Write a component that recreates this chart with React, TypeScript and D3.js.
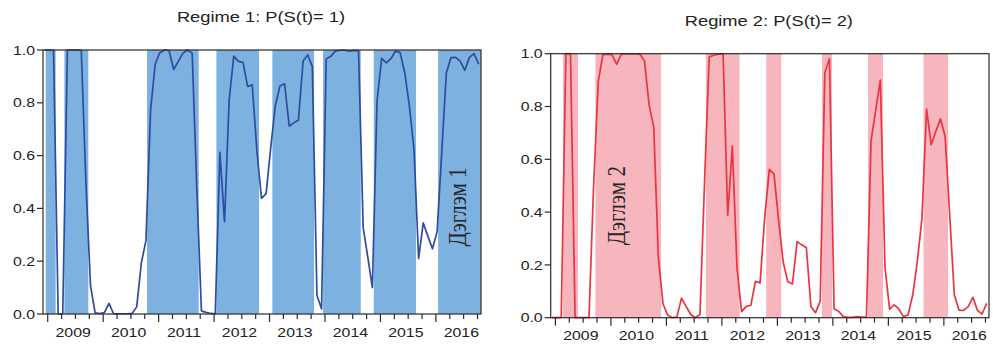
import React from "react";
import * as d3 from "d3";

// monthly observations, 2008M12 .. 2016M10
const firstYear = 2008;
const firstMonth = 12;
const yearLabels = ["2009", "2010", "2011", "2012", "2013", "2014", "2015", "2016"];
const yTicks = [0, 0.2, 0.4, 0.6, 0.8, 1.0];

const regime1Prob = [
  1.0, 1.0, 0.999, 0.0, 0.001, 1.0, 1.0, 1.0, 0.999, 0.5,
  0.107, 0.004, 0.002, 0.005, 0.04, 0.001, 0.001, 0.001, 0.001, 0.002,
  0.027, 0.194, 0.278, 0.773, 0.947, 0.99, 1.0, 0.998, 0.926, 0.957,
  0.988, 1.0, 0.988, 0.48, 0.012, 0.006, 0.002, 0.001, 0.612, 0.35,
  0.81, 0.977, 0.957, 0.953, 0.862, 0.868, 0.62, 0.438, 0.456, 0.63,
  0.79, 0.864, 0.872, 0.712, 0.724, 0.735, 0.958, 0.981, 0.937, 0.071,
  0.019, 0.966, 0.976, 0.996, 0.999, 0.999, 0.996, 0.998, 0.998, 0.328,
  0.215, 0.1, 0.806, 0.968, 0.951, 0.967, 0.996, 0.99, 0.914, 0.788,
  0.623, 0.21, 0.345, 0.295, 0.247, 0.312, 0.61, 0.914, 0.971, 0.972,
  0.958, 0.923, 0.972, 0.986, 0.946,
];

const regime2Prob = [
  0.0, 0.0, 0.001, 1.0, 0.999, 0.0, 0.0, 0.0, 0.001, 0.5,
  0.893, 0.996, 0.998, 0.995, 0.96, 0.999, 0.999, 0.999, 0.999, 0.998,
  0.973, 0.806, 0.722, 0.227, 0.053, 0.01, 0.0, 0.002, 0.074, 0.043,
  0.012, 0.0, 0.012, 0.52, 0.988, 0.994, 0.998, 0.999, 0.388, 0.65,
  0.19, 0.023, 0.043, 0.047, 0.138, 0.132, 0.38, 0.562, 0.544, 0.37,
  0.21, 0.136, 0.128, 0.288, 0.276, 0.265, 0.042, 0.019, 0.063, 0.929,
  0.981, 0.034, 0.024, 0.004, 0.001, 0.001, 0.004, 0.002, 0.002, 0.672,
  0.785, 0.9, 0.194, 0.032, 0.049, 0.033, 0.004, 0.01, 0.086, 0.212,
  0.377, 0.79, 0.655, 0.705, 0.753, 0.688, 0.39, 0.086, 0.029, 0.028,
  0.042, 0.077, 0.028, 0.014, 0.054,
];

// shaded periods, in observation units
const regime1Shade: [number, number][] = [
  [0.3, 2.46], [4.34, 9.53], [22.23, 33.41], [37.24, 46.47],
  [49.35, 58.38], [60.32, 68.48], [71.3, 80.45], [85.22, 94.5],
];
const regime2Shade: [number, number][] = [
  [2.38, 5.63], [9.39, 23.59], [33.27, 40.56], [46.32, 49.57],
  [58.38, 60.54], [68.33, 71.58], [80.35, 85.65],
];

const xDomain: [number, number] = [-0.28, 94.5];
const tickShift = 0.26;
const SX = 1.22;
const sans = "'Liberation Sans', Arial, sans-serif";
const serif = "'Liberation Serif', 'Times New Roman', serif";

interface PanelProps {
  left: number;
  top: number;
  width: number;
  height: number;
  values: number[];
  shade: [number, number][];
  fill: string;
  stroke: string;
  title: string;
  note: string;
  noteX: number;
  noteY: number;
}

function Panel({ left, top, width, height, values, shade, fill, stroke, title, note, noteX, noteY }: PanelProps) {
  const x = d3.scaleLinear().domain(xDomain).range([0, width]);
  const y = d3.scaleLinear().domain([0, 1]).range([height, 0]);
  const line = d3
    .line<number>()
    .x((_, i) => x(i))
    .y(d => y(d));

  const ticks = values
    .map((_, i) => ({ i, m: ((firstMonth - 1 + i) % 12) + 1 }))
    .filter(d => d.m % 3 === 1);
  const janIdx = ticks.filter(d => d.m === 1).map(d => d.i);

  return (
    <g transform={`translate(${left},${top})`}>
      <text
        transform={`translate(${width / 2 - 1},${-28}) scale(${SX},1)`}
        textAnchor="middle"
        fontFamily={sans}
        fontSize={15}
        fill="#222"
      >
        {title}
      </text>
      {shade.map(([a, b], k) => (
        <rect
          key={k}
          x={x(a)}
          y={0}
          width={Math.min(x(b), width) - x(a)}
          height={height}
          fill={fill}
        />
      ))}
      <path d={line(values) ?? undefined} fill="none" stroke={stroke} strokeWidth={1.7} strokeLinejoin="round" />
      <text
        transform={`translate(${noteX},${noteY}) scale(${SX},1) rotate(-90)`}
        textAnchor="middle"
        fontFamily={serif}
        fontSize={21}
        fill="#262626"
      >
        {note}
      </text>
      <rect x={0} y={0} width={width} height={height} fill="none" stroke="#2a2a2a" strokeWidth={1.2} />
      {yTicks.map(t => (
        <g key={t} transform={`translate(0,${y(t)})`}>
          <line x1={-6} x2={0} stroke="#2a2a2a" strokeWidth={1.2} />
          <text
            transform={`translate(-8,0) scale(${SX},1)`}
            dy="0.36em"
            textAnchor="end"
            fontFamily={sans}
            fontSize={13}
            fill="#222"
          >
            {t.toFixed(1)}
          </text>
        </g>
      ))}
      {ticks.map(d => (
        <line
          key={d.i}
          x1={x(d.i - tickShift)}
          x2={x(d.i - tickShift)}
          y1={height}
          y2={height + (d.m === 1 ? 8 : 5)}
          stroke="#2a2a2a"
          strokeWidth={1.2}
        />
      ))}
      {janIdx.map((i, k) => (
        <text
          key={i}
          transform={`translate(${x(i + 5.5 - tickShift)},${height + 22.5}) scale(${SX},1)`}
          textAnchor="middle"
          fontFamily={sans}
          fontSize={13}
          fill="#222"
        >
          {yearLabels[k] ?? String(firstYear + 1 + k)}
        </text>
      ))}
    </g>
  );
}

export default function App() {
  return (
    <div style={{ position: "absolute", left: 0, top: 0 }}>
      <svg width={993} height={344} style={{ display: "block", background: "#fff" }}>
        <Panel
          left={43}
          top={50}
          width={438}
          height={264}
          values={regime1Prob}
          shade={regime1Shade}
          fill="#7db2e0"
          stroke="#2e4c9f"
          title="Regime 1: P(S(t)= 1)"
          note="Дэглэм 1"
          noteX={423}
          noteY={157}
        />
        <Panel
          left={550.7}
          top={53.7}
          width={438.3}
          height={264}
          values={regime2Prob}
          shade={regime2Shade}
          fill="#f7b6be"
          stroke="#ec3440"
          title="Regime 2: P(S(t)= 2)"
          note="Дэглэм 2"
          noteX={74.5}
          noteY={152}
        />
      </svg>
    </div>
  );
}
